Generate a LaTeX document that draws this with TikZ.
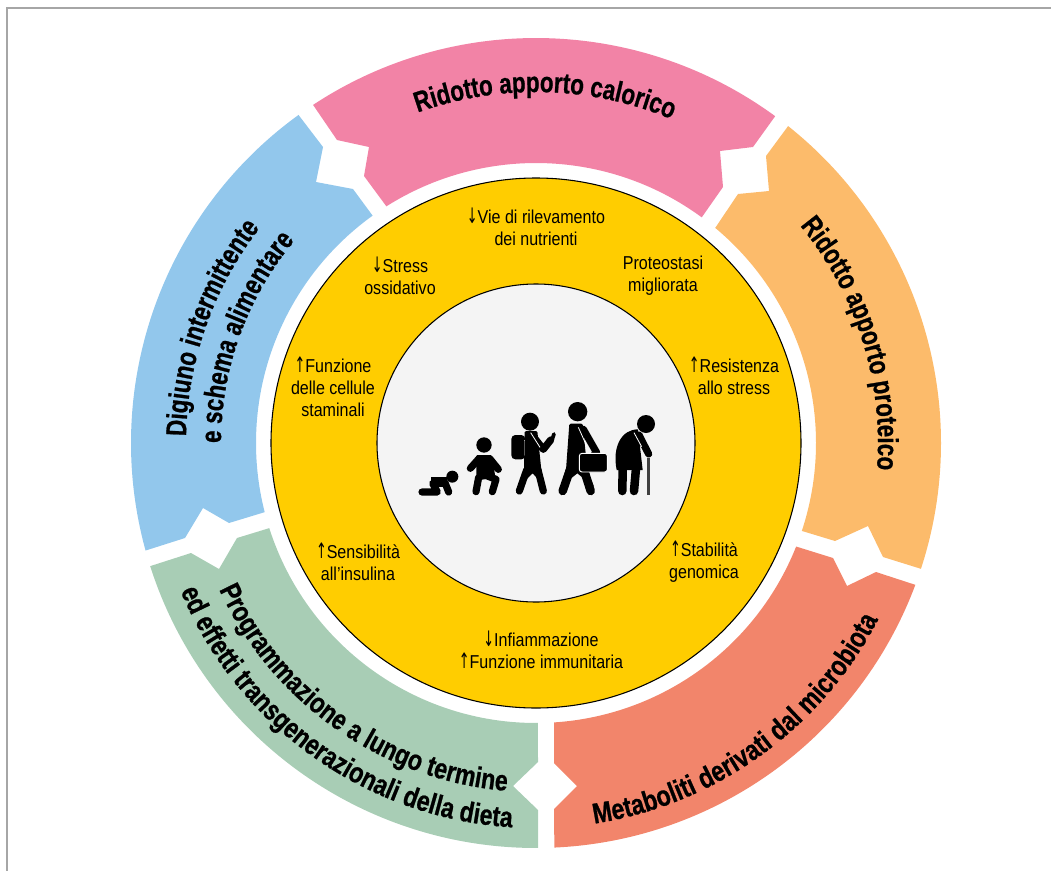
\documentclass[tikz,border=0pt]{standalone}
\usepackage{fontspec}
\usetikzlibrary{decorations.text}
\setmainfont{Liberation Sans}
\newfontfamily\bandfont[FakeStretch=0.78,FakeBold=0.8]{Liberation Sans Bold}
\newfontfamily\bandwidefont[FakeStretch=0.81,FakeBold=0.8]{Liberation Sans Bold}
\newfontfamily\smallfont[FakeStretch=0.86]{Liberation Sans}
\newfontfamily\arrowfont[FakeStretch=0.6]{DejaVu Sans}
\newcommand{\upar}{{\arrowfont\fontsize{16}{16.5}\selectfont ↑}}
\newcommand{\downar}{{\arrowfont\fontsize{16}{16.5}\selectfont ↓}}
\definecolor{cpink}{HTML}{F283A6}
\definecolor{corange}{HTML}{FCBB6B}
\definecolor{csalmon}{HTML}{F2856B}
\definecolor{cgreen}{HTML}{A8CDB5}
\definecolor{cblue}{HTML}{92C7EC}
\definecolor{cyellow}{HTML}{FFCD00}
\definecolor{cgrey}{HTML}{F4F4F4}
\tikzset{
  lab/.style={font=\smallfont\fontsize{14}{16.5}\selectfont,align=center,text=black,inner sep=0pt},
  bandtext/.style={decorate,decoration={text along path,text align=center,
    text={|\bandfont\fontsize{21.5}{23}\selectfont|#1}}},
  bandwide/.style={decorate,decoration={text along path,text align=center,
    text={|\bandwidefont\fontsize{21.5}{23}\selectfont|#1}}},
  limb/.style={line width=5.4pt,line cap=round,line join=round,black},
  biglimb/.style={line width=6.4pt,line cap=round,line join=round,black},
  strap/.style={white,line width=0.6pt},
}
\begin{document}
\begin{tikzpicture}[x=0.75pt,y=0.75pt]
\useasboundingbox (0,-871) rectangle (1057,0);
\coordinate (c) at (536,-443);
\draw[line width=1.1pt,color=black!35] (7,-871) -- (7,-8) -- (1051,-8);
% bands
\fill[cpink] ([shift={(c)}]53.8:405) arc[start angle=53.8,end angle=123.4,radius=405]
  -- (337,-140) -- (369,-147) -- (364,-176) -- ([shift={(c)}]122.3:280)
  arc[start angle=122.3,end angle=53.7,radius=280]
  -- (723,-187) -- (720,-151) -- (753,-147) -- cycle;
\fill[corange] ([shift={(c)}]51.5:405) arc[start angle=51.5,end angle=-18.1,radius=405]
  -- (883,-557) -- (868,-526) -- (835,-541) -- ([shift={(c)}]-18.3:280)
  arc[start angle=-18.3,end angle=50.2,radius=280]
  -- (738,-194) -- (769,-191) -- (766,-156) -- cycle;
\fill[csalmon] ([shift={(c)}]-20.5:405) arc[start angle=-20.5,end angle=-87.4,radius=405]
  -- (554,-809) -- (577,-786) -- (554,-763) -- ([shift={(c)}]-86.3:280)
  arc[start angle=-86.3,end angle=-21.7,radius=280]
  -- (833,-558) -- (847,-586) -- (876,-572) -- cycle;
\fill[cgreen] ([shift={(c)}]270.3:405) arc[start angle=270.3,end angle=197.7,radius=405]
  -- (191,-553) -- (219,-569) -- (237,-538) -- ([shift={(c)}]197.7:280)
  arc[start angle=197.7,end angle=270.4,radius=280]
  -- (538,-762) -- (513,-786) -- (538,-810) -- cycle;
\fill[cblue] ([shift={(c)}]195.4:405) arc[start angle=195.4,end angle=125.9,radius=405]
  -- (323,-147) -- (316,-182) -- (353,-189) -- ([shift={(c)}]125.7:280)
  arc[start angle=125.7,end angle=194.3,radius=280]
  -- (229,-523) -- (203,-508) -- (185,-538) -- cycle;
% discs
\node[circle,draw=black,line width=0.8pt,fill=cyellow,minimum size=397.5pt,inner sep=0pt] (yellowdisc) at (c) {};
\node[circle,draw=black,line width=0.8pt,fill=cgrey,minimum size=238.5pt,inner sep=0pt] (greydisc) at (c) {};
% band texts
\path[bandtext={Ridotto apporto calorico}] ([shift={(c)}]123.5:351) arc[start angle=123.5,end angle=53.5,radius=351];
\path[bandtext={Ridotto apporto proteico}] ([shift={(c)}]52.5:342) arc[start angle=52.5,end angle=-17.5,radius=342];
\path[bandwide={Metaboliti derivati dal microbiota}] ([shift={(c)}]-94.3:385) arc[start angle=-94.3,end angle=-14.3,radius=385];
\path[bandwide={Programmazione a lungo termine}] ([shift={(c)}]190:349) arc[start angle=190,end angle=280,radius=349];
\path[bandwide={ed effetti transgenerazionali della dieta}] ([shift={(c)}]189.5:385) arc[start angle=189.5,end angle=279.5,radius=385];
\path[bandtext={Digiuno intermittente}] ([shift={(c)}]195.5:350) arc[start angle=195.5,end angle=125.5,radius=350];
\path[bandtext={e schema alimentare}] ([shift={(c)}]195:315) arc[start angle=195,end angle=125,radius=315];
% small labels
\node[lab] (l1) at (536,-227) {\downar Vie di rilevamento\\dei nutrienti};
\node[lab] (l2) at (400,-276) {\downar Stress\\ossidativo};
\node[lab] (l3) at (663,-276) {Proteostasi\\migliorata};
\node[lab] (l4) at (734,-376) {\upar Resistenza\\allo stress};
\node[lab] (l5) at (333,-387) {\upar Funzione\\delle cellule\\staminali};
\node[lab] (l6) at (358,-562) {\upar Sensibilità\\all’insulina};
\node[lab] (l7) at (704,-562) {\upar Stabilità\\genomica};
\node[lab] (l8) at (541,-650) {\downar Infiammazione\\\upar Funzione immunitaria};
% people, coordinates are in 1/3 px from (400,390)
\begin{scope}[shift={(400,-390)},x=0.25pt,y=-0.25pt]
  % baby
  \fill (157,260) circle (18);
  \draw[limb] (66,306) -- (112,306) -- (98,280) -- (135,278) -- (146,306);
  \fill (92,262) rectangle (140,292);
  % child
  \fill (252,165) circle (23);
  \fill[rounded corners=1pt] (228,195) -- (276,195) -- (286,262) -- (230,272) -- cycle;
  \draw[limb] (211,235) -- (236,207);
  \draw[limb] (295,238) -- (270,207);
  \draw[limb] (228,305) -- (236,262);
  \draw[limb] (277,305) -- (288,268) -- (255,255);
  % student
  \fill[rounded corners=3pt] (334,135) rectangle (376,208);
  \draw[strap] (372,150) -- (372,205);
  \fill[rounded corners=1pt] (374,123) -- (412,123) -- (424,240) -- (372,240) -- cycle;
  \fill (390,95) circle (27);
  \fill (372,235) -- (424,235) -- (430,285) -- (398,250) -- (362,285) -- cycle;
  \draw[limb] (380,240) -- (358,303);
  \draw[limb] (414,240) -- (430,303);
  \draw[limb] (404,145) -- (430,178) -- (452,150);
  \draw[black,line width=2.8pt,line cap=round] (456,150) -- (462,132);
  \draw[strap] (392,128) -- (420,172);
  % adult
  \fill (533,65) circle (29);
  \fill[rounded corners=1pt] (508,101) -- (548,101) -- (562,240) -- (498,240) -- cycle;
  \fill (498,235) -- (560,235) -- (582,290) -- (532,250) -- (482,290) -- cycle;
  \draw[biglimb] (510,240) -- (488,303);
  \draw[biglimb] (552,240) -- (572,303);
  \draw[limb] (550,118) -- (590,188);
  \draw[strap] (535,112) -- (560,168);
  \draw[black,line width=0.8pt] (575,190) -- (580,180) -- (592,180) -- (598,190);
  \draw[fill=black,draw=white,line width=0.7pt,rounded corners=2pt] (538,190) rectangle (622,246);
  % elder
  \fill (738,102) circle (27);
  \fill (650,240) .. controls (636,170) and (665,118) .. (714,118) -- (728,240) -- cycle;
  \draw[biglimb] (668,235) -- (667,303);
  \draw[biglimb] (708,235) -- (702,303);
  \draw[limb] (717,135) -- (746,192);
  \draw[strap] (702,128) -- (725,170);
  \draw[black!75,line width=2pt] (745,205) -- (745,314);
\end{scope}
\end{tikzpicture}
\end{document}
